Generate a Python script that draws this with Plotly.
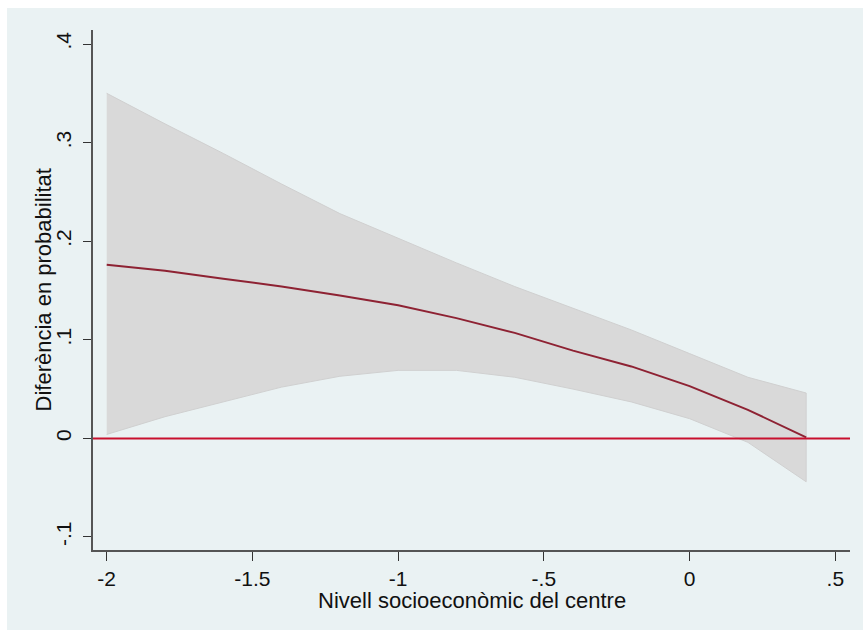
import plotly.graph_objects as go

# Socioeconomic level of the school (evaluation points)
nivell = [-2.0, -1.8, -1.6, -1.4, -1.2, -1.0, -0.8, -0.6, -0.4, -0.2, 0.0, 0.2, 0.4]
# Estimated difference in probability and its 95% confidence bounds
diferencia = [0.176, 0.170, 0.162, 0.154, 0.145, 0.135, 0.122, 0.107, 0.089, 0.073, 0.053, 0.029, 0.001]
ci_superior = [0.350, 0.319, 0.289, 0.258, 0.228, 0.203, 0.178, 0.154, 0.132, 0.110, 0.086, 0.062, 0.046]
ci_inferior = [0.004, 0.022, 0.037, 0.052, 0.063, 0.069, 0.069, 0.062, 0.050, 0.037, 0.020, -0.004, -0.044]

y_ticks = [-0.1, 0, 0.1, 0.2, 0.3, 0.4]
y_labels = ["-.1", "0", ".1", ".2", ".3", ".4"]
x_ticks = [-2, -1.5, -1, -0.5, 0, 0.5]
x_labels = ["-2", "-1.5", "-1", "-.5", "0", ".5"]

x_title = "Nivell socioeconòmic del centre"
y_title = "Diferència en probabilitat"

BG = "#EAF2F3"
FONT = "Liberation Sans, Arial, Helvetica, sans-serif"

fig = go.Figure()

# Confidence band
fig.add_trace(go.Scatter(
    x=nivell + nivell[::-1],
    y=ci_superior + ci_inferior[::-1],
    fill="toself",
    fillcolor="#D9D9D9",
    line=dict(color="#D0D0D0", width=1),
    mode="lines",
    hoverinfo="skip",
    showlegend=False,
))

# Reference line at zero
fig.add_shape(type="line", xref="paper", yref="y", x0=0, x1=1, y0=0, y1=0,
              line=dict(color="#C8102E", width=2), layer="above")

# Point estimate
fig.add_trace(go.Scatter(
    x=nivell, y=diferencia, mode="lines",
    line=dict(color="#8E2233", width=2),
    showlegend=False,
))

# Outer graph region
fig.add_shape(type="rect", xref="paper", yref="paper",
              x0=-0.1136, x1=1.03, y0=-0.1538, y1=1.0423,
              fillcolor=BG, line=dict(width=0), layer="below")

# Axis titles
fig.add_annotation(text=x_title, xref="paper", yref="paper",
                   x=0.5, y=-0.0975, xanchor="center", yanchor="middle",
                   showarrow=False, font=dict(size=22))
fig.add_annotation(text=y_title, xref="paper", yref="paper",
                   x=-0.0654, y=0.5, xanchor="center", yanchor="middle",
                   textangle=-90, showarrow=False, font=dict(size=22))

fig.update_layout(
    width=863, height=631,
    margin=dict(l=93, r=13, t=30, b=81),
    paper_bgcolor="white",
    plot_bgcolor="white",
    font=dict(family=FONT, size=21, color="#111111"),
    showlegend=False,
)

fig.update_xaxes(
    range=[-2.047, 0.5504],
    tickvals=x_ticks, ticktext=x_labels,
    ticks="outside", ticklen=9, tickwidth=1, tickcolor="#333333",
    showline=True, linecolor="#555555", linewidth=1.5,
    showgrid=False, zeroline=False,
)
fig.update_yaxes(
    range=[-0.1132, 0.4142],
    tickvals=y_ticks, ticktext=y_labels, tickangle=-90,
    ticks="outside", ticklen=8, tickwidth=1, tickcolor="#333333",
    ticklabelstandoff=4,
    showline=True, linecolor="#555555", linewidth=1.5,
    showgrid=True, gridcolor=BG, gridwidth=2, zeroline=False,
)

fig.write_html("out.html")
